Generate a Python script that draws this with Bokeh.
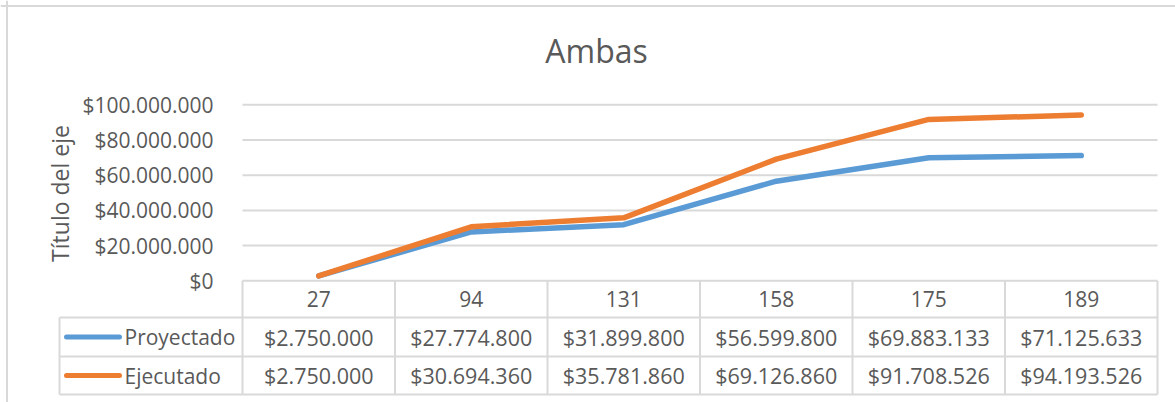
import math
from bokeh.plotting import figure
from bokeh.models import Span
from bokeh.core.properties import value
from bokeh.embed import file_html
from bokeh.resources import INLINE

# ---------------- data ----------------
categories = ["27", "94", "131", "158", "175", "189"]
proyectado = [2750000, 27774800, 31899800, 56599800, 69883133, 71125633]
ejecutado = [2750000, 30694360, 35781860, 69126860, 91708526, 94193526]
series_names = ["Proyectado", "Ejecutado"]
y_ticks = [0, 20000000, 40000000, 60000000, 80000000, 100000000]
title_text = "Ambas"
y_title = "Título del eje"

# ---------------- style / layout ----------------
W, H = 1175, 402
PAGE = 0
COL_LEFT_PX = 242.0        # px of plot-area left edge
COL_W_PX = 152.5           # width of one category column
ZERO_PX = 280.3            # px of value 0
PX_PER_UNIT = 1.76 / 1e6   # px per currency unit
FONT = "Open Sans"
TXT = "#595959"
GRID = "#D9D9D9"
BLUE = "#5B9BD5"
ORANGE = "#ED7D31"


def X(px):
    return (px - COL_LEFT_PX) / COL_W_PX


def Y(px):
    return (ZERO_PX - px) / PX_PER_UNIT


def fmt(v):
    return "$" + f"{v:,}".replace(",", ".")


p = figure(width=W, height=H, output_backend="svg", toolbar_location=None,
           x_axis_type=None, y_axis_type=None,
           x_range=(X(PAGE), X(PAGE + W)), y_range=(Y(PAGE + H), Y(PAGE)),
           min_border=0, outline_line_color=None,
           background_fill_color="white", border_fill_color="white")

# chart border (top and left visible in the window)
p.add_layout(Span(location=X(6.5), dimension="height", line_color=GRID, line_width=2))
p.add_layout(Span(location=Y(5.5), dimension="width", line_color=GRID, line_width=2))

ncat = len(categories)

# horizontal gridlines
p.segment(x0=[0] * (len(y_ticks) - 1), x1=[ncat] * (len(y_ticks) - 1),
          y0=y_ticks[1:], y1=y_ticks[1:], line_color=GRID, line_width=2)

# y tick labels
p.text(x=[X(213)] * len(y_ticks), y=y_ticks, text=[fmt(v) for v in y_ticks],
       text_font=value(FONT), text_font_size="21px", text_color=TXT,
       text_align="right", text_baseline="middle")

# axis title
p.text(x=[X(59)], y=[Y(193)], text=[y_title], angle=math.pi / 2,
       text_font=value(FONT), text_font_size="23px", text_color=TXT,
       text_align="center", text_baseline="middle")

# chart title
p.text(x=[X(596)], y=[Y(50)], text=[title_text],
       text_font=value(FONT), text_font_size="32px", text_color=TXT,
       text_align="center", text_baseline="middle")

# ---------------- data table ----------------
ROW_TOP = [ZERO_PX, 317, 356]
ROW_BOT = 394
LEG_LEFT = 59
# horizontal table lines
p.segment(x0=[0], x1=[ncat], y0=[0], y1=[0], line_color=GRID, line_width=2)
p.segment(x0=[X(LEG_LEFT)] * 3, x1=[ncat] * 3, y0=[Y(317), Y(356), Y(ROW_BOT)],
          y1=[Y(317), Y(356), Y(ROW_BOT)], line_color=GRID, line_width=2)
# vertical table lines
p.segment(x0=list(range(ncat + 1)), x1=list(range(ncat + 1)),
          y0=[0] * (ncat + 1), y1=[Y(ROW_BOT)] * (ncat + 1), line_color=GRID, line_width=2)
p.segment(x0=[X(LEG_LEFT)], x1=[X(LEG_LEFT)], y0=[Y(317)], y1=[Y(ROW_BOT)],
          line_color=GRID, line_width=2)

centers = [i + 0.5 for i in range(ncat)]
row_c = [Y((ROW_TOP[0] + 317) / 2), Y((317 + 356) / 2), Y((356 + ROW_BOT) / 2)]

p.text(x=centers, y=[row_c[0]] * ncat, text=categories,
       text_font=value(FONT), text_font_size="21px", text_color=TXT,
       text_align="center", text_baseline="middle")

for k, (vals, col) in enumerate([(proyectado, BLUE), (ejecutado, ORANGE)]):
    yc = row_c[k + 1]
    p.text(x=centers, y=[yc] * ncat, text=[fmt(v) for v in vals],
           text_font=value(FONT), text_font_size="21.5px", text_color=TXT,
           text_align="center", text_baseline="middle")
    p.line(x=[X(66), X(119)], y=[yc, yc], line_color=col, line_width=5, line_cap="round")
    p.text(x=[X(124)], y=[yc], text=[series_names[k]],
           text_font=value(FONT), text_font_size="21px", text_color=TXT,
           text_align="left", text_baseline="middle")

# ---------------- series lines ----------------
p.line(x=centers, y=proyectado, line_color=BLUE, line_width=5.5,
       line_cap="round", line_join="round")
p.line(x=centers, y=ejecutado, line_color=ORANGE, line_width=5.5,
       line_cap="round", line_join="round")

open("out.html", "w").write(file_html(p, INLINE))
